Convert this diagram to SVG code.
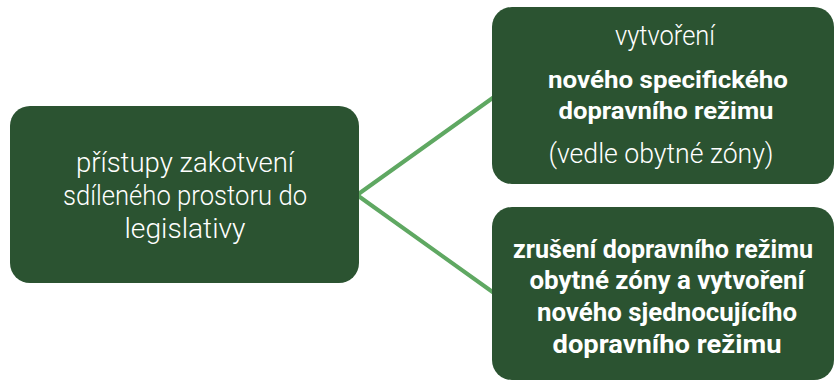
<svg xmlns="http://www.w3.org/2000/svg" width="836" height="381" viewBox="0 0 836 381">
<style>
.box{fill:#2b5331}
.t{fill:#ffffff;font-family:Roboto,"Liberation Sans",sans-serif;text-anchor:middle}
.l{font-weight:300;font-size:27px}
.b{font-weight:700;font-size:24px}
.b2{font-weight:700;font-size:25px}
.conn{stroke:#5fa862;stroke-width:4;fill:none;stroke-linecap:round}
</style>
<rect width="836" height="381" fill="#ffffff"/>
<g id="connectors">
<line class="conn" x1="357" y1="195" x2="494" y2="97"/>
<line class="conn" x1="357" y1="195" x2="494" y2="293"/>
</g>
<g id="node-left">
<rect class="box" x="10" y="106" width="349" height="177" rx="20"/>
<text class="t l" x="185" y="172" textLength="218" lengthAdjust="spacingAndGlyphs">přístupy zakotvení</text>
<text class="t l" x="185" y="205" textLength="244" lengthAdjust="spacingAndGlyphs">sdíleného prostoru do</text>
<text class="t l" x="185" y="238" textLength="121" lengthAdjust="spacingAndGlyphs">legislativy</text>
</g>
<g id="node-top">
<rect class="box" x="492" y="7" width="342" height="177" rx="20"/>
<text class="t l" x="665" y="45" textLength="100" lengthAdjust="spacingAndGlyphs">vytvoření</text>
<text class="t b" x="668" y="88" textLength="240" lengthAdjust="spacingAndGlyphs">nového specifického</text>
<text class="t b" x="666" y="119" textLength="215" lengthAdjust="spacingAndGlyphs">dopravního režimu</text>
<text class="t l" x="661" y="163" textLength="225" lengthAdjust="spacingAndGlyphs">(vedle obytné zóny)</text>
</g>
<g id="node-bottom">
<rect class="box" x="492" y="207" width="342" height="173" rx="20"/>
<text class="t b2" x="663" y="258" textLength="300" lengthAdjust="spacingAndGlyphs">zrušení dopravního režimu</text>
<text class="t b2" x="667" y="289" textLength="275" lengthAdjust="spacingAndGlyphs">obytné zóny a vytvoření</text>
<text class="t b2" x="667" y="321" textLength="260" lengthAdjust="spacingAndGlyphs">nového sjednocujícího</text>
<text class="t b2" x="667" y="353" textLength="229" lengthAdjust="spacingAndGlyphs">dopravního režimu</text>
</g>
</svg>
